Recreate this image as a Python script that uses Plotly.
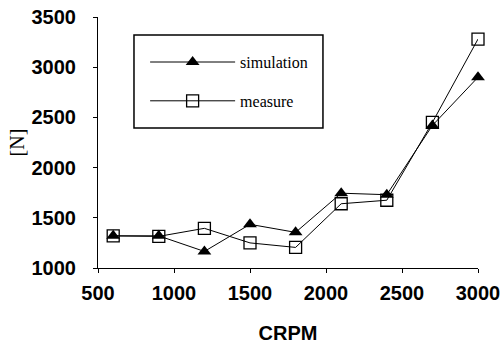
import plotly.graph_objects as go

crpm = [600, 900, 1200, 1500, 1800, 2100, 2400, 2700, 3000]
simulation = [1320, 1320, 1165, 1435, 1355, 1745, 1730, 2420, 2900]
measure = [1320, 1315, 1395, 1250, 1205, 1640, 1675, 2450, 3280]

fig = go.Figure()
fig.add_trace(go.Scatter(
    x=crpm, y=simulation, name="simulation", mode="lines+markers",
    legendgroup="a",
    line=dict(color="black", width=1),
    marker=dict(symbol="triangle-up", size=12, color="black"),
    cliponaxis=False,
))
fig.add_trace(go.Scatter(
    x=crpm, y=measure, name="measure", mode="lines+markers",
    legendgroup="b",
    line=dict(color="black", width=1),
    marker=dict(symbol="square-open", size=12, color="black",
                line=dict(width=1.3)),
    cliponaxis=False,
))

tickfont = dict(family="Liberation Sans", size=20, color="black", weight="bold")
fig.update_layout(
    width=504, height=344,
    margin=dict(l=98, r=26, t=17, b=76),
    paper_bgcolor="white", plot_bgcolor="white",
    showlegend=True,
    legend=dict(
        x=0.124, y=0.888, xanchor="left", yanchor="top",
        borderwidth=0, bgcolor="rgba(0,0,0,0)",
        font=dict(family="Liberation Serif", size=16, color="black"),
        itemwidth=85, tracegroupgap=15,
        traceorder="grouped",
    ),
    shapes=[dict(type="rect", xref="paper", yref="paper",
                 x0=0.0947, x1=0.592, y0=0.558, y1=0.928,
                 line=dict(color="black", width=1.5), fillcolor="rgba(0,0,0,0)")],
    xaxis=dict(
        range=[500, 3000], tickvals=[500, 1000, 1500, 2000, 2500, 3000],
        showgrid=False, zeroline=False, showline=True, linecolor="black",
        linewidth=1.2, ticks="outside", ticklen=4, tickcolor="black",
        ticklabelstandoff=3, automargin=False,
        tickfont=tickfont,
        title=dict(text="<b>CRPM</b>", font=dict(family="Liberation Sans",
                   size=20, color="black"), standoff=25),
    ),
    yaxis=dict(
        range=[1000, 3500], tickvals=[1000, 1500, 2000, 2500, 3000, 3500],
        showgrid=False, zeroline=False, showline=True, linecolor="black",
        linewidth=1.2, ticks="outside", ticklen=4, tickcolor="black",
        ticklabelstandoff=13, automargin=False,
        tickfont=tickfont,
        title=dict(text="[N]", font=dict(family="Liberation Serif",
                   size=20, color="black"), standoff=1),
    ),
)
fig.write_html("out.html")
